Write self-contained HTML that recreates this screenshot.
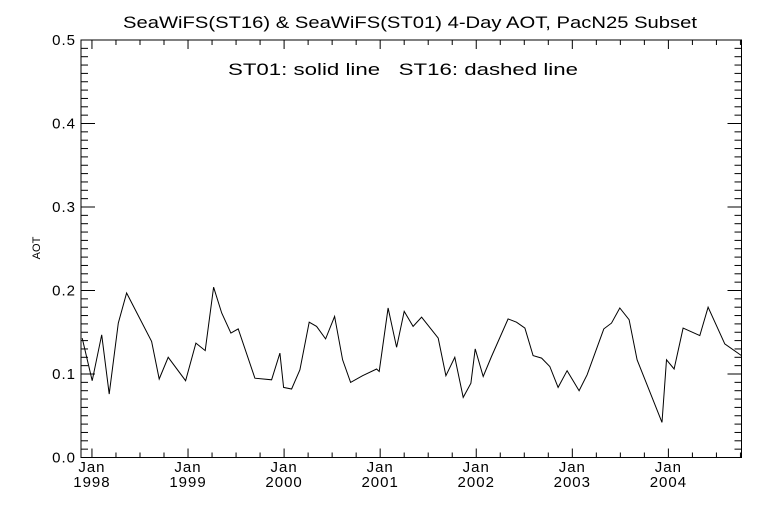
<!DOCTYPE html>
<html><head><meta charset="utf-8"><style>
html,body{margin:0;padding:0;background:#fff;}
svg text{font-family:"Liberation Sans",sans-serif;fill:#000;}
</style></head><body>
<svg id="chart" width="768" height="512" viewBox="0 0 768 512">
<rect x="0" y="0" width="768" height="512" fill="#fff"/>
<text x="123" y="28" font-size="17" textLength="574" lengthAdjust="spacingAndGlyphs">SeaWiFS(ST16) &amp; SeaWiFS(ST01) 4-Day AOT, PacN25 Subset</text>
<text x="228" y="75" font-size="17" textLength="350" lengthAdjust="spacingAndGlyphs">ST01: solid line&#160;&#160;&#160;ST16: dashed line</text>
<text x="40" y="248" font-size="11" text-anchor="middle" transform="rotate(-90 40 248)">AOT</text>
<rect x="81" y="40" width="660.5" height="417.5" fill="none" stroke="#000" stroke-width="1"/>
<g id="axes"></g>
<g id="series"></g>
</svg>
<script>
const dates=[1997.899,1998.003,1998.101,1998.180,1998.274,1998.361,1998.621,1998.700,1998.794,1998.975,1999.082,1999.179,1999.266,1999.350,1999.446,1999.522,1999.696,1999.870,1999.956,1999.995,2000.078,2000.164,2000.261,2000.338,2000.432,2000.526,2000.609,2000.692,2000.817,2000.963,2000.990,2001.083,2001.171,2001.250,2001.343,2001.431,2001.604,2001.684,2001.777,2001.864,2001.944,2001.989,2002.072,2002.159,2002.332,2002.419,2002.506,2002.592,2002.680,2002.766,2002.852,2002.946,2003.071,2003.154,2003.328,2003.408,2003.494,2003.591,2003.674,2003.934,2003.980,2004.059,2004.153,2004.327,2004.413,2004.587,2004.761];
const st01=[0.143,0.092,0.147,0.076,0.161,0.197,0.139,0.094,0.120,0.092,0.137,0.128,0.204,0.173,0.149,0.154,0.095,0.093,0.125,0.084,0.082,0.105,0.162,0.157,0.142,0.169,0.117,0.090,0.098,0.106,0.103,0.179,0.132,0.175,0.157,0.168,0.143,0.098,0.120,0.072,0.089,0.130,0.097,0.121,0.166,0.162,0.155,0.122,0.119,0.109,0.084,0.104,0.080,0.099,0.154,0.161,0.179,0.165,0.117,0.042,0.117,0.106,0.155,0.146,0.180,0.136,0.122];
const yearLabels=["1998","1999","2000","2001","2002","2003","2004"];
const yTickLabels=["0.0","0.1","0.2","0.3","0.4","0.5"];
const X0=81,X1=741.5,Y0=457.5,Y1=40;
const xMin=1997.886,xMax=2004.761,yMin=0,yMax=0.5;
function xs(t){return X0+(t-xMin)/(xMax-xMin)*(X1-X0);}
function ys(v){return Y0-(v-yMin)/(yMax-yMin)*(Y0-Y1);}
const NS="http://www.w3.org/2000/svg";
const ax=document.getElementById('axes');
function line(x1,y1,x2,y2,name){const l=document.createElementNS(NS,'line');
l.setAttribute('x1',x1);l.setAttribute('y1',y1);l.setAttribute('x2',x2);l.setAttribute('y2',y2);
l.setAttribute('stroke','#000');l.setAttribute('stroke-width','1');


ax.appendChild(l);}
function text(x,y,s,anchor,name){const t=document.createElementNS(NS,'text');
t.setAttribute('x',x);t.setAttribute('y',y);t.setAttribute('font-size','15');t.setAttribute('letter-spacing','1');t.setAttribute('text-anchor',anchor);t.textContent=s;


ax.appendChild(t);}
for(let i=0;i<=50;i++){const v=i*0.01;const y=ys(v);const major=i%10===0;const L=major?14:7;
line(X0,y,X0+L,y,'y-tick');line(X1,y,X1-L,y,'y-tick-right');}
yTickLabels.forEach((s,i)=>{text(X0-5,ys(parseFloat(s))+5,s,'end','y-tick-label');});
for(let q=0;q<40;q++){const t=1997.75+q*0.25;if(t<xMin||t>xMax)continue;const x=xs(t);const major=Math.abs(t-Math.round(t))<1e-6;const L=major?9:5;
line(x,Y0,x,Y0-L,'x-tick');line(x,Y1,x,Y1+L,'x-tick-top');}
yearLabels.forEach(s=>{const x=xs(parseFloat(s));text(x,472,'Jan','middle','x-tick-month');text(x,487,s,'middle','x-tick-year');});
let d='';dates.forEach((t,i)=>{d+=(i?'L':'M')+xs(t).toFixed(1)+','+ys(st01[i]).toFixed(1);});
const p=document.createElementNS(NS,'path');p.setAttribute('d',d);p.setAttribute('fill','none');p.setAttribute('stroke','#000');p.setAttribute('stroke-width','1');


document.getElementById('series').appendChild(p);
</script>
</body></html>
